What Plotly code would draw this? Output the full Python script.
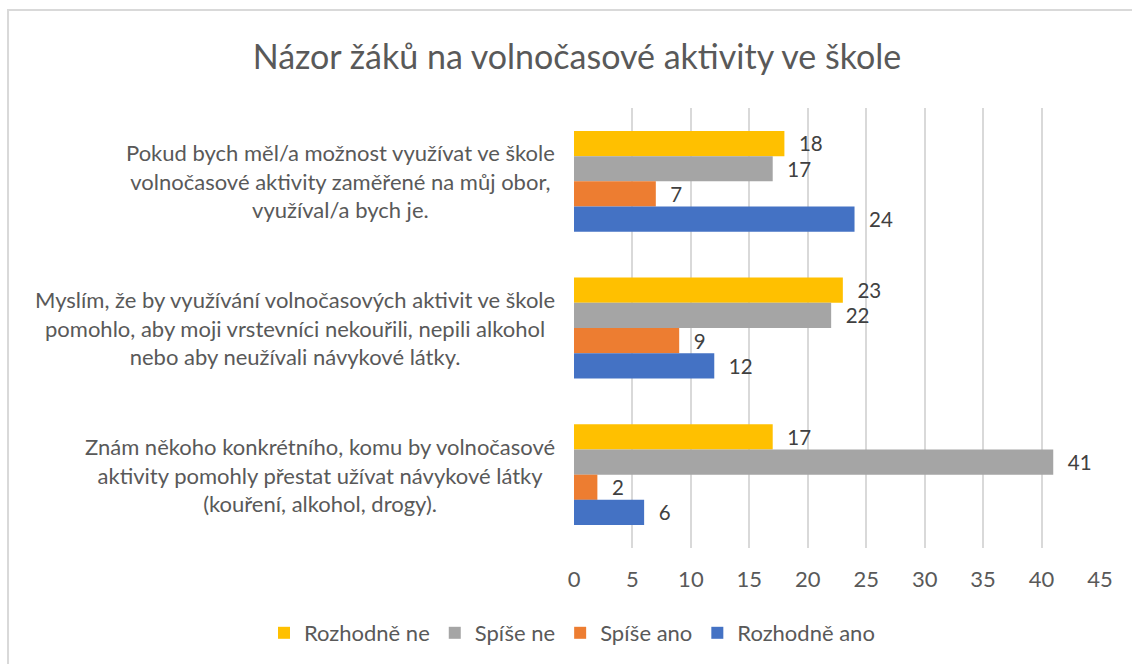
import plotly.graph_objects as go

categories = [
    "Pokud bych měl/a možnost využívat ve škole<br>volnočasové aktivity zaměřené na můj obor,<br>využíval/a bych je.",
    "Myslím, že by využívání volnočasových aktivit ve škole<br>pomohlo, aby moji vrstevníci nekouřili, nepili alkohol<br>nebo aby neužívali návykové látky.",
    "Znám někoho konkrétního, komu by volnočasové<br>aktivity pomohly přestat užívat návykové látky<br>(kouření, alkohol, drogy).",
]
series_names = ["Rozhodně ne", "Spíše ne", "Spíše ano", "Rozhodně ano"]
rozhodne_ne = [18, 23, 17]
spise_ne = [17, 22, 41]
spise_ano = [7, 9, 2]
rozhodne_ano = [24, 12, 6]
colors = ["#FFC000", "#A5A5A5", "#ED7D31", "#4472C4"]
x_ticks = [0, 5, 10, 15, 20, 25, 30, 35, 40, 45]

series_values = [rozhodne_ne, spise_ne, spise_ano, rozhodne_ano]
FONT = "Lato, Carlito, Calibri, sans-serif"
FS = 22

fig = go.Figure()
for name, vals, col in zip(series_names, series_values, colors):
    fig.add_trace(go.Bar(
        y=categories, x=vals, name=name, orientation="h",
        marker=dict(color=col, line=dict(width=0)),
        texttemplate="\u2002\u200a%{x}", textposition="outside",
        textfont=dict(size=FS, color="#404040", family=FONT),
        cliponaxis=False,
    ))

for cat in categories:
    fig.add_annotation(
        x=0, y=cat, xref="x", yref="y", text=cat, showarrow=False,
        xanchor="right", yanchor="middle", align="center", xshift=-17,
        font=dict(size=FS, color="#595959", family=FONT),
    )

# outer chart border
fig.add_shape(type="rect", xref="paper", yref="paper",
              x0=-1.076, x1=1.3, y0=-0.5, y1=1.2227,
              line=dict(color="#D9D9D9", width=2), layer="below")

fig.update_layout(
    width=1132, height=664,
    margin=dict(l=574, r=32, t=108, b=116, autoexpand=False),
    paper_bgcolor="white", plot_bgcolor="white",
    barmode="group", bargap=0.313, bargroupgap=0,
    title=dict(text="Názor žáků na volnočasové aktivity ve škole",
               x=577 / 1132, xref="container", xanchor="center",
               y=1 - 57 / 664, yref="container", yanchor="middle",
               font=dict(size=34, color="#595959", family=FONT)),
    showlegend=True,
    legend=dict(orientation="h", x=(264 - 574) / 526, xref="paper", xanchor="left",
                y=(548 - 633) / 440, yref="paper", yanchor="middle",
                font=dict(size=FS, color="#595959", family=FONT),
                tracegroupgap=0, bgcolor="rgba(0,0,0,0)"),
    font=dict(family=FONT, color="#595959"),
)
fig.update_xaxes(range=[0, 45], tickvals=x_ticks, showgrid=True,
                 gridcolor="#D9D9D9", gridwidth=2, zeroline=False,
                 showline=False, ticks="outside", ticklen=12,
                 tickcolor="rgba(0,0,0,0)",
                 tickfont=dict(size=FS, color="#595959", family=FONT))
fig.update_yaxes(autorange="reversed", showticklabels=False, showgrid=False,
                 zeroline=False, showline=False)

fig.write_html("out.html", config={"displayModeBar": False},
               post_script="document.body.style.margin='0';document.body.style.overflow='hidden';")
